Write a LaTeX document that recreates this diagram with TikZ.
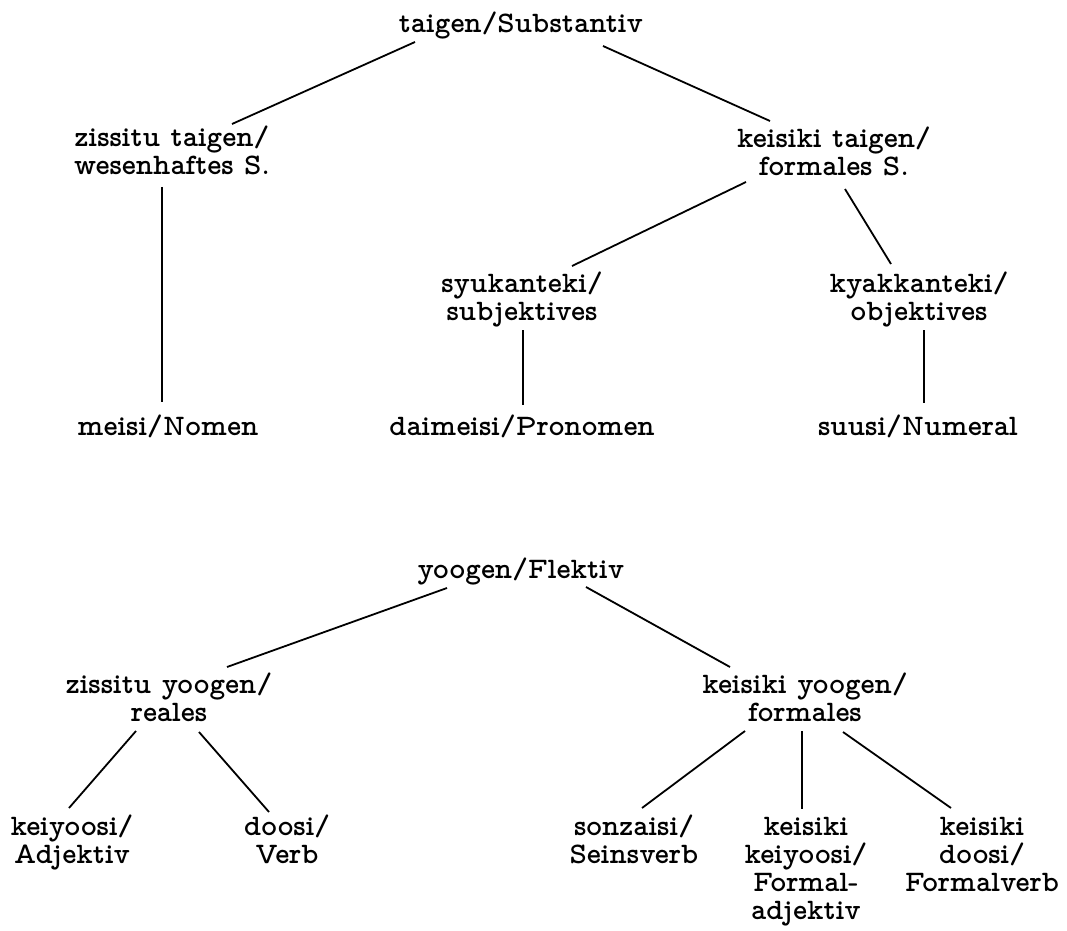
\documentclass[tikz,border=0pt]{standalone}
\usetikzlibrary{calc}
\tikzset{
  term/.style={anchor=base, align=center, inner sep=0pt,
    font=\fontfamily{lmvtt}\fontseries{b}\fontsize{14.9}{14}\selectfont},
  link/.style={line width=0.9pt, black}
}
\begin{document}
\begin{tikzpicture}[x=0.5pt,y=-0.5pt]
\useasboundingbox (0,0) rectangle (1067,931);

% Substantive tree (node base = baseline of the last line)
\node[term] (root) at (521,33)  {taigen/Substantiv};
\node[term] (zt)   at (172,175) {zissitu taigen/\\wesenhaftes S.};
\node[term] (kt)   at (834,176) {keisiki taigen/\\formales S.};
\node[term] (syu)  at (522,321) {syukanteki/\\subjektives};
\node[term] (kya)  at (919,321) {kyakkanteki/\\objektives};
\node[term] (meisi) at (168,435) {meisi/Nomen};
\node[term] (dai)  at (522,435) {daimeisi/Pronomen};
\node[term] (suu)  at (918,435) {suusi/Numeral};

\draw[link] ($(root.base)+(-106,9)$) -- ($(zt.base)+(60,-51)$);
\draw[link] ($(root.base)+(82,13)$)  -- ($(kt.base)+(-64,-55)$);
\draw[link] ($(zt.base)+(-10,12)$)   -- ($(meisi.base)+(-6,-33)$);
\draw[link] ($(kt.base)+(-88,6)$)    -- ($(syu.base)+(50,-55)$);
\draw[link] ($(kt.base)+(11,13)$)    -- ($(kya.base)+(-28,-57)$);
\draw[link] ($(syu.base)+(1,9)$)     -- ($(dai.base)+(1,-30)$);
\draw[link] ($(kya.base)+(5,9)$)     -- ($(suu.base)+(6,-32)$);

% Inflecting tree
\node[term] (yoo) at (521,578) {yoogen/Flektiv};
\node[term] (zy)  at (169,721) {zissitu yoogen/\\reales};
\node[term] (ky)  at (805,721) {keisiki yoogen/\\formales};
\node[term] (kei) at (72,863)  {keiyoosi/\\Adjektiv};
\node[term] (doo) at (287,863) {doosi/\\Verb};
\node[term] (son) at (634,863) {sonzaisi/\\Seinsverb};
\node[term] (kk)  at (806,919) {keisiki\\keiyoosi/\\Formal-\\adjektiv};
\node[term] (kd)  at (982,891) {keisiki\\doosi/\\Formalverb};

\draw[link] ($(yoo.base)+(-74,10)$) -- ($(zy.base)+(58,-54)$);
\draw[link] ($(yoo.base)+(65,9)$)   -- ($(ky.base)+(-75,-54)$);
\draw[link] ($(zy.base)+(-33,10)$)  -- ($(kei.base)+(-3,-55)$);
\draw[link] ($(zy.base)+(30,11)$)   -- ($(doo.base)+(-18,-51)$);
\draw[link] ($(ky.base)+(-60,10)$)  -- ($(son.base)+(8,-55)$);
\draw[link] ($(ky.base)+(-3,10)$)   -- ($(kk.base)+(-4,-110)$);
\draw[link] ($(ky.base)+(38,11)$)   -- ($(kd.base)+(-31,-83)$);
\end{tikzpicture}
\end{document}
